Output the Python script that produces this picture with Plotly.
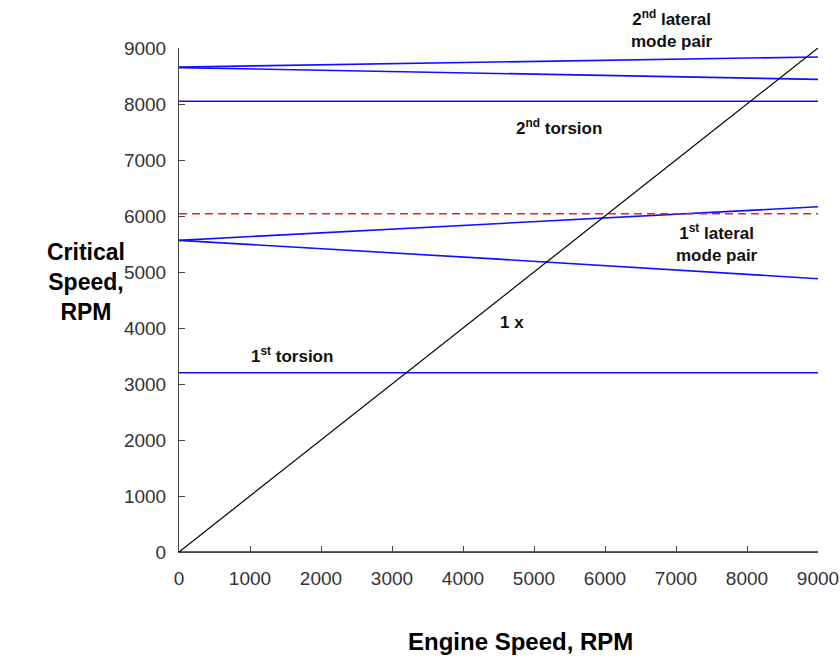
import plotly.graph_objects as go

# Engine speed sample points (RPM)
engine_rpm = [0, 4500, 9000]

# Critical speed curves (RPM)
one_x = [0, 4500, 9000]
torsion_1 = [3200, 3200, 3200]
torsion_2 = [8050, 8050, 8050]
lateral_1_upper = [5565, 5865, 6165]
lateral_1_lower = [5565, 5230, 4880]
lateral_2_upper = [8660, 8755, 8840]
lateral_2_lower = [8650, 8540, 8440]
zero_line = [0, 0, 0]
limit_line = [6040, 6040, 6040]

tick_vals = [0, 1000, 2000, 3000, 4000, 5000, 6000, 7000, 8000, 9000]
tick_text = [str(v) for v in tick_vals]

blue = "#1010ff"
fig = go.Figure()

for series in [zero_line, torsion_1, torsion_2, lateral_1_upper, lateral_1_lower,
               lateral_2_upper, lateral_2_lower]:
    fig.add_trace(go.Scatter(x=engine_rpm, y=series, mode="lines",
                             line=dict(color=blue, width=1.6), showlegend=False,
                             hoverinfo="skip", cliponaxis=False))

fig.add_trace(go.Scatter(x=engine_rpm, y=limit_line, mode="lines",
                         line=dict(color="#ff1a1a", width=1.4, dash="8px,5px"),
                         showlegend=False))
fig.add_trace(go.Scatter(x=engine_rpm, y=one_x, mode="lines",
                         line=dict(color="black", width=1.2), showlegend=False))

lab_font = dict(family="Liberation Sans, Arial, sans-serif", size=17, color="#111111")
annots = [
    dict(x=5352, y=7589, text="<b>2<sup>nd</sup> torsion</b>"),
    dict(x=7577, y=5518, text="<b>1<sup>st</sup> lateral<br>mode pair</b>"),
    dict(x=4690, y=4107, text="<b>1 x</b>"),
    dict(x=1591, y=3518, text="<b>1<sup>st</sup> torsion</b>"),
]
for a in annots:
    fig.add_annotation(x=a["x"], y=a["y"], text=a["text"], showarrow=False,
                       font=lab_font, xref="x", yref="y", align="center")
fig.add_annotation(x=0.772, y=1.038, xref="paper", yref="paper",
                   text="<b>2<sup>nd</sup> lateral<br>mode pair</b>", showarrow=False,
                   font=lab_font, align="center", xanchor="center", yanchor="middle")

title_font = dict(family="Liberation Sans, Arial, sans-serif", size=23, color="black")
fig.add_annotation(text="<b>Critical<br>Speed,<br>RPM</b>", xref="paper", yref="paper",
                   x=-0.145, y=0.536, showarrow=False, font=title_font, align="center",
                   xanchor="center", yanchor="middle")
fig.add_annotation(text="<b>Engine Speed, RPM</b>", xref="paper", yref="paper",
                   x=0.534, y=-0.177, showarrow=False, font=dict(title_font, size=24),
                   xanchor="center", yanchor="middle")

axis_common = dict(range=[0, 9000], tickvals=tick_vals, ticktext=tick_text,
                   showgrid=False, zeroline=False, showline=True, linecolor="#444444",
                   linewidth=1, ticks="inside", ticklen=6, tickcolor="#444444",
                   tickfont=dict(family="Liberation Sans, Arial, sans-serif", size=19,
                                 color="#333333"), mirror=False, automargin=False,
                   ticklabeloverflow="allow")

fig.update_layout(
    width=840, height=660,
    margin=dict(l=179, r=22, t=48, b=108, autoexpand=False),
    plot_bgcolor="white", paper_bgcolor="white",
    xaxis=dict(**axis_common, ticklabelstandoff=9),
    yaxis=dict(**axis_common, ticklabelstandoff=8),
    showlegend=False,
)

fig.write_html("out.html")
